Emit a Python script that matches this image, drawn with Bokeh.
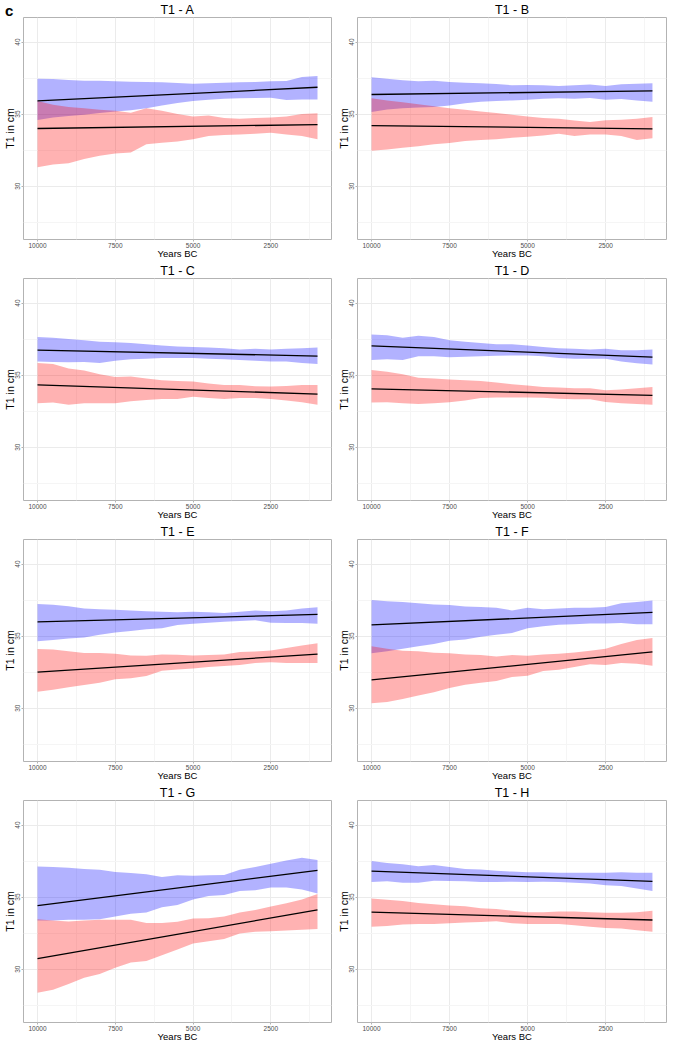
from bokeh.plotting import figure
from bokeh.layouts import column, row
from bokeh.models import Range1d, FixedTicker, NumeralTickFormatter, Div
from bokeh.embed import file_html
from bokeh.resources import INLINE

FONT = "Liberation Sans"

years = [10000, 9500, 9000, 8500, 8000, 7500, 7000, 6500, 6000, 5500,
         5000, 4500, 4000, 3500, 3000, 2500, 2000, 1500, 1000]
fit_years = [10000, 1000]

# T1 - A
a_blue_hi = [37.45, 37.43, 37.36, 37.32, 37.32, 37.27, 37.25, 37.23, 37.20, 37.16, 37.11, 37.14, 37.18, 37.20, 37.23, 37.27, 37.30, 37.57, 37.64]
a_blue_lo = [34.59, 34.77, 34.86, 34.95, 35.07, 35.18, 35.27, 35.41, 35.59, 35.77, 35.91, 36.00, 36.07, 36.09, 36.11, 36.14, 35.98, 36.02, 36.02]
a_red_hi = [35.91, 35.64, 35.50, 35.41, 35.30, 35.23, 35.09, 35.41, 35.23, 35.00, 34.84, 34.91, 34.73, 34.68, 34.73, 34.77, 34.84, 35.00, 35.05]
a_red_lo = [31.32, 31.50, 31.59, 31.89, 32.11, 32.27, 32.34, 32.91, 33.02, 33.09, 33.25, 33.48, 33.55, 33.59, 33.64, 33.70, 33.59, 33.48, 33.25]
a_blue_fit = [35.91, 36.86]
a_red_fit = [34.00, 34.27]

# T1 - B
b_blue_hi = [37.55, 37.45, 37.34, 37.27, 37.32, 37.23, 37.18, 37.14, 37.09, 37.00, 37.02, 37.00, 36.95, 37.00, 37.05, 36.95, 37.07, 37.11, 37.14]
b_blue_lo = [35.14, 35.32, 35.41, 35.45, 35.50, 35.59, 35.75, 35.86, 35.91, 35.95, 36.00, 36.07, 36.09, 36.07, 36.11, 36.00, 36.05, 35.95, 35.86]
b_red_hi = [36.09, 35.95, 35.82, 35.68, 35.55, 35.41, 35.30, 35.18, 35.07, 34.95, 34.84, 34.73, 34.68, 34.55, 34.45, 34.57, 34.61, 34.68, 34.80]
b_red_lo = [32.45, 32.55, 32.66, 32.77, 32.91, 33.00, 33.14, 33.20, 33.25, 33.36, 33.43, 33.52, 33.64, 33.48, 33.59, 33.59, 33.48, 33.20, 33.32]
b_blue_fit = [36.36, 36.61]
b_red_fit = [34.20, 33.98]

# T1 - C
c_blue_hi = [37.64, 37.59, 37.50, 37.41, 37.32, 37.27, 37.23, 37.14, 37.05, 36.98, 36.95, 36.91, 36.86, 36.77, 36.82, 36.77, 36.82, 36.86, 36.91]
c_blue_lo = [35.95, 35.91, 35.89, 35.91, 35.84, 36.00, 36.09, 36.14, 36.18, 36.18, 36.18, 36.14, 36.09, 36.05, 36.00, 35.95, 35.95, 35.84, 35.77]
c_red_hi = [35.84, 35.77, 35.45, 35.32, 35.05, 34.86, 34.91, 34.77, 34.64, 34.59, 34.55, 34.41, 34.32, 34.32, 34.23, 34.20, 34.25, 34.32, 34.32]
c_red_lo = [33.05, 33.09, 32.95, 33.05, 33.05, 33.05, 33.18, 33.27, 33.34, 33.34, 33.50, 33.41, 33.34, 33.41, 33.41, 33.34, 33.23, 33.11, 32.95]
c_blue_fit = [36.73, 36.32]
c_red_fit = [34.32, 33.68]

# T1 - D
d_blue_hi = [37.82, 37.77, 37.59, 37.73, 37.64, 37.41, 37.32, 37.23, 37.14, 37.14, 37.05, 36.95, 36.86, 36.82, 36.77, 36.82, 36.73, 36.73, 36.77]
d_blue_lo = [36.05, 36.09, 36.05, 36.30, 36.30, 36.23, 36.27, 36.30, 36.34, 36.36, 36.36, 36.30, 36.18, 36.14, 36.14, 36.14, 35.95, 35.82, 35.73]
d_red_hi = [35.36, 35.23, 35.05, 34.82, 34.77, 34.70, 34.64, 34.59, 34.48, 34.36, 34.27, 34.18, 34.14, 34.09, 34.09, 33.95, 34.00, 34.09, 34.18]
d_red_lo = [33.09, 33.11, 33.05, 33.00, 33.05, 33.11, 33.23, 33.41, 33.45, 33.45, 33.45, 33.43, 33.36, 33.32, 33.32, 33.14, 33.05, 33.00, 32.95]
d_blue_fit = [37.02, 36.25]
d_red_fit = [34.05, 33.59]

# T1 - E
e_blue_hi = [37.23, 37.18, 37.07, 36.91, 36.86, 36.82, 36.77, 36.73, 36.68, 36.66, 36.68, 36.66, 36.61, 36.68, 36.77, 36.73, 36.77, 36.91, 37.00]
e_blue_lo = [34.64, 34.73, 34.84, 34.91, 35.09, 35.25, 35.36, 35.48, 35.55, 35.77, 35.86, 35.93, 36.00, 36.05, 36.09, 35.93, 35.91, 35.91, 35.86]
e_red_hi = [34.11, 34.07, 33.95, 33.82, 33.82, 33.77, 33.66, 33.64, 33.73, 33.70, 33.66, 33.68, 33.73, 33.89, 33.93, 34.00, 34.18, 34.34, 34.50]
e_red_lo = [31.14, 31.27, 31.45, 31.61, 31.77, 32.00, 32.07, 32.23, 32.59, 32.68, 32.75, 32.86, 32.93, 33.00, 33.14, 33.18, 33.14, 33.14, 33.14]
e_blue_fit = [35.98, 36.50]
e_red_fit = [32.50, 33.75]

# T1 - F
f_blue_hi = [37.51, 37.42, 37.37, 37.28, 37.19, 37.15, 37.05, 37.01, 36.96, 36.78, 36.96, 36.87, 36.92, 36.96, 36.96, 37.01, 37.28, 37.37, 37.47]
f_blue_lo = [33.81, 33.95, 34.13, 34.29, 34.45, 34.68, 34.77, 34.95, 35.09, 35.21, 35.55, 35.68, 35.78, 35.82, 35.87, 35.87, 35.91, 35.82, 35.82]
f_red_hi = [34.29, 34.13, 33.99, 33.95, 33.84, 33.81, 33.72, 33.68, 33.58, 33.68, 33.63, 33.72, 33.77, 33.86, 33.99, 34.13, 34.45, 34.73, 34.86]
f_red_lo = [30.34, 30.43, 30.64, 30.87, 31.10, 31.39, 31.62, 31.76, 31.89, 32.17, 32.24, 32.58, 32.67, 32.85, 33.04, 32.99, 33.13, 33.08, 32.95]
f_blue_fit = [35.78, 36.64]
f_red_fit = [31.96, 33.90]

# T1 - G
g_blue_hi = [37.12, 37.08, 37.03, 36.94, 36.89, 36.74, 36.67, 36.58, 36.39, 36.51, 36.48, 36.51, 36.53, 36.89, 37.08, 37.31, 37.53, 37.72, 37.58]
g_blue_lo = [33.38, 33.38, 33.42, 33.42, 33.47, 33.65, 33.84, 33.93, 34.29, 34.45, 34.84, 35.07, 35.14, 35.43, 35.48, 35.66, 35.66, 35.53, 35.25]
g_red_hi = [33.47, 33.38, 33.31, 33.38, 33.42, 33.42, 33.42, 33.20, 33.20, 33.29, 33.52, 33.54, 33.65, 33.93, 34.11, 34.34, 34.57, 34.84, 35.21]
g_red_lo = [28.36, 28.58, 28.97, 29.41, 29.66, 30.09, 30.46, 30.57, 30.96, 31.37, 31.78, 31.94, 32.10, 32.47, 32.60, 32.63, 32.69, 32.74, 32.79]
g_blue_fit = [34.41, 36.85]
g_red_fit = [30.73, 34.11]

# T1 - H
h_blue_hi = [37.50, 37.36, 37.27, 37.14, 37.23, 37.09, 36.95, 36.91, 36.82, 36.77, 36.73, 36.73, 36.68, 36.68, 36.68, 36.68, 36.73, 36.68, 36.68]
h_blue_lo = [36.05, 36.09, 36.00, 36.00, 36.14, 36.11, 36.09, 36.05, 36.05, 36.07, 36.05, 36.07, 36.05, 36.00, 35.95, 35.82, 35.77, 35.59, 35.43]
h_red_hi = [34.91, 34.82, 34.73, 34.59, 34.50, 34.41, 34.36, 34.23, 34.18, 34.05, 33.95, 33.95, 34.00, 34.00, 33.95, 33.91, 33.91, 33.95, 34.05]
h_red_lo = [32.95, 33.00, 33.09, 33.14, 33.14, 33.18, 33.23, 33.27, 33.32, 33.18, 33.14, 33.14, 33.14, 33.05, 32.95, 32.86, 32.82, 32.70, 32.59]
h_blue_fit = [36.80, 36.09]
h_red_fit = [33.95, 33.41]

x_ticks = [10000, 7500, 5000, 2500]
x_minor = [8750, 6250, 3750, 1250]
y_ticks = [30, 35, 40]
y_minor = [27.5, 32.5, 37.5]


def panel(name, blue_lo, blue_hi, red_lo, red_hi, blue_fit, red_fit, width):
    p = figure(width=width, height=261, title="T1 - " + name,
               x_range=Range1d(10450, 550), y_range=Range1d(26.3, 41.7),
               output_backend="svg", toolbar_location=None,
               min_border_left=0, min_border_right=3, min_border_top=0, min_border_bottom=0)
    p.title.align = "center"
    p.title.text_font = FONT
    p.title.text_font_size = "12.5px"
    p.title.text_font_style = "normal"
    p.title.text_color = "black"
    p.title.standoff = 1

    p.outline_line_color = "#b3b3b3"
    p.outline_line_width = 1

    p.varea(x=years, y1=blue_lo, y2=blue_hi, fill_color="blue", fill_alpha=0.3)
    p.varea(x=years, y1=red_lo, y2=red_hi, fill_color="red", fill_alpha=0.3)
    p.line(fit_years, blue_fit, color="black", line_width=1.3)
    p.line(fit_years, red_fit, color="black", line_width=1.3)

    p.xaxis.ticker = FixedTicker(ticks=x_ticks, minor_ticks=x_minor)
    p.yaxis.ticker = FixedTicker(ticks=y_ticks, minor_ticks=y_minor)
    p.xaxis.formatter = NumeralTickFormatter(format="0")
    p.xaxis.axis_label = "Years BC"
    p.yaxis.axis_label = "T1 in cm"
    p.yaxis.major_label_orientation = "vertical"
    for ax in (p.xaxis, p.yaxis):
        ax.axis_line_color = None
        ax.major_tick_line_color = "#b3b3b3"
        ax.major_tick_out = 2
        ax.major_tick_in = 0
        ax.minor_tick_out = 0
        ax.minor_tick_in = 0
        ax.minor_tick_line_color = None
        ax.major_label_text_font = FONT
        ax.major_label_text_font_size = "6.5px"
        ax.major_label_text_color = "#4d4d4d"
        ax.major_label_standoff = 1
        ax.axis_label_text_font = FONT
        ax.axis_label_text_font_style = "normal"
        ax.axis_label_text_color = "black"
    p.xaxis.axis_label_standoff = -3
    p.yaxis.axis_label_standoff = -3
    p.xaxis.axis_label_text_font_size = "9.5px"
    p.yaxis.axis_label_text_font_size = "10.5px"

    p.grid.grid_line_color = "#ebebeb"
    p.grid.minor_grid_line_color = "#f5f5f5"
    return p


pa = panel("A", a_blue_lo, a_blue_hi, a_red_lo, a_red_hi, a_blue_fit, a_red_fit, 334)
pb = panel("B", b_blue_lo, b_blue_hi, b_red_lo, b_red_hi, b_blue_fit, b_red_fit, 335)
pc = panel("C", c_blue_lo, c_blue_hi, c_red_lo, c_red_hi, c_blue_fit, c_red_fit, 334)
pd = panel("D", d_blue_lo, d_blue_hi, d_red_lo, d_red_hi, d_blue_fit, d_red_fit, 335)
pe = panel("E", e_blue_lo, e_blue_hi, e_red_lo, e_red_hi, e_blue_fit, e_red_fit, 334)
pf = panel("F", f_blue_lo, f_blue_hi, f_red_lo, f_red_hi, f_blue_fit, f_red_fit, 335)
pg = panel("G", g_blue_lo, g_blue_hi, g_red_lo, g_red_hi, g_blue_fit, g_red_fit, 334)
ph = panel("H", h_blue_lo, h_blue_hi, h_red_lo, h_red_hi, h_blue_fit, h_red_fit, 335)

# panel letter: taken out of the flow so it sits on the top-left corner
tag = Div(text="c", width=20, height=16,
          styles={"position": "absolute", "top": "0px", "left": "0px", "z-index": "5",
                  "overflow": "visible", "font-family": FONT, "font-size": "15px",
                  "font-weight": "bold", "line-height": "12px", "color": "black"})

layout = column(tag, row(pa, pb), row(pc, pd), row(pe, pf), row(pg, ph))
open("out.html", "w").write(file_html(layout, INLINE))
